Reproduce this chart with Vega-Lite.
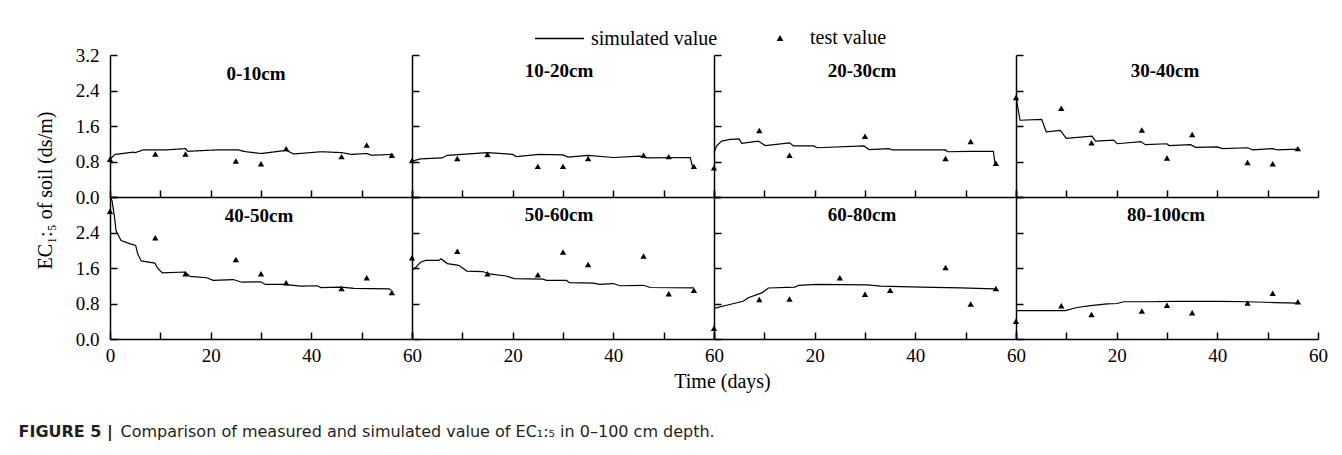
{
"$schema": "https://vega.github.io/schema/vega-lite/v6.json",
"autosize": {"type": "none"},
"padding": {"left": 110, "top": 55, "right": 1232, "bottom": 400},
"background": "white",
"datasets": {
"sim": [
{"d":"0-10cm","t":0,"v":0.85},{"d":"0-10cm","t":1,"v":0.96},{"d":"0-10cm","t":4.6,"v":1.01},{"d":"0-10cm","t":5,"v":1.0},{"d":"0-10cm","t":6.6,"v":1.06},{"d":"0-10cm","t":11,"v":1.06},{"d":"0-10cm","t":15,"v":1.09},{"d":"0-10cm","t":15.5,"v":1.03},{"d":"0-10cm","t":21,"v":1.06},{"d":"0-10cm","t":25.5,"v":1.06},{"d":"0-10cm","t":27,"v":1.02},{"d":"0-10cm","t":30,"v":0.98},{"d":"0-10cm","t":35,"v":1.05},{"d":"0-10cm","t":36.5,"v":0.97},{"d":"0-10cm","t":42,"v":1.02},{"d":"0-10cm","t":46,"v":1.0},{"d":"0-10cm","t":48,"v":0.96},{"d":"0-10cm","t":51,"v":0.98},{"d":"0-10cm","t":52,"v":0.94},{"d":"0-10cm","t":56,"v":0.96},
{"d":"10-20cm","t":0,"v":0.81},{"d":"10-20cm","t":1.7,"v":0.86},{"d":"10-20cm","t":6,"v":0.88},{"d":"10-20cm","t":7,"v":0.94},{"d":"10-20cm","t":15,"v":1.0},{"d":"10-20cm","t":20,"v":0.96},{"d":"10-20cm","t":20.7,"v":0.91},{"d":"10-20cm","t":25.3,"v":0.96},{"d":"10-20cm","t":30,"v":0.95},{"d":"10-20cm","t":31,"v":0.9},{"d":"10-20cm","t":35,"v":0.94},{"d":"10-20cm","t":40,"v":0.89},{"d":"10-20cm","t":45.3,"v":0.92},{"d":"10-20cm","t":46.7,"v":0.88},{"d":"10-20cm","t":55.3,"v":0.89},{"d":"10-20cm","t":55.7,"v":0.69},
{"d":"20-30cm","t":0,"v":1.0},{"d":"20-30cm","t":0.5,"v":1.15},{"d":"20-30cm","t":1.5,"v":1.26},{"d":"20-30cm","t":3.2,"v":1.3},{"d":"20-30cm","t":5,"v":1.31},{"d":"20-30cm","t":5.5,"v":1.21},{"d":"20-30cm","t":8.8,"v":1.26},{"d":"20-30cm","t":10.2,"v":1.16},{"d":"20-30cm","t":15,"v":1.22},{"d":"20-30cm","t":15.8,"v":1.15},{"d":"20-30cm","t":19.8,"v":1.15},{"d":"20-30cm","t":20.5,"v":1.11},{"d":"20-30cm","t":29.8,"v":1.15},{"d":"20-30cm","t":30.8,"v":1.07},{"d":"20-30cm","t":34.8,"v":1.09},{"d":"20-30cm","t":35.4,"v":1.06},{"d":"20-30cm","t":46,"v":1.06},{"d":"20-30cm","t":46.4,"v":1.02},{"d":"20-30cm","t":51,"v":1.03},{"d":"20-30cm","t":55.5,"v":1.03},{"d":"20-30cm","t":55.8,"v":0.77},
{"d":"30-40cm","t":0,"v":2.26},{"d":"30-40cm","t":0.8,"v":1.73},{"d":"30-40cm","t":5.1,"v":1.75},{"d":"30-40cm","t":6,"v":1.47},{"d":"30-40cm","t":8.8,"v":1.5},{"d":"30-40cm","t":10,"v":1.32},{"d":"30-40cm","t":15.1,"v":1.37},{"d":"30-40cm","t":15.8,"v":1.26},{"d":"30-40cm","t":19.4,"v":1.28},{"d":"30-40cm","t":20.1,"v":1.2},{"d":"30-40cm","t":24.8,"v":1.25},{"d":"30-40cm","t":25.7,"v":1.18},{"d":"30-40cm","t":30,"v":1.2},{"d":"30-40cm","t":30.4,"v":1.16},{"d":"30-40cm","t":34.7,"v":1.18},{"d":"30-40cm","t":35.7,"v":1.12},{"d":"30-40cm","t":40,"v":1.13},{"d":"30-40cm","t":41,"v":1.09},{"d":"30-40cm","t":46,"v":1.11},{"d":"30-40cm","t":47,"v":1.06},{"d":"30-40cm","t":51,"v":1.09},{"d":"30-40cm","t":52,"v":1.06},{"d":"30-40cm","t":56,"v":1.08},
{"d":"40-50cm","t":0,"v":3.19},{"d":"40-50cm","t":0.4,"v":3.12},{"d":"40-50cm","t":0.9,"v":2.74},{"d":"40-50cm","t":1.2,"v":2.44},{"d":"40-50cm","t":2.2,"v":2.22},{"d":"40-50cm","t":3.9,"v":2.15},{"d":"40-50cm","t":5.1,"v":2.11},{"d":"40-50cm","t":5.5,"v":1.92},{"d":"40-50cm","t":6.2,"v":1.76},{"d":"40-50cm","t":8.9,"v":1.71},{"d":"40-50cm","t":9.5,"v":1.59},{"d":"40-50cm","t":10.4,"v":1.49},{"d":"40-50cm","t":14.9,"v":1.51},{"d":"40-50cm","t":15.9,"v":1.41},{"d":"40-50cm","t":19.2,"v":1.38},{"d":"40-50cm","t":20.5,"v":1.32},{"d":"40-50cm","t":24.5,"v":1.34},{"d":"40-50cm","t":26.2,"v":1.28},{"d":"40-50cm","t":29.9,"v":1.29},{"d":"40-50cm","t":30.9,"v":1.23},{"d":"40-50cm","t":34.5,"v":1.23},{"d":"40-50cm","t":37.9,"v":1.19},{"d":"40-50cm","t":41.2,"v":1.2},{"d":"40-50cm","t":41.9,"v":1.16},{"d":"40-50cm","t":45.9,"v":1.17},{"d":"40-50cm","t":48.5,"v":1.14},{"d":"40-50cm","t":55.5,"v":1.13},{"d":"40-50cm","t":55.9,"v":1.1},
{"d":"50-60cm","t":0,"v":1.55},{"d":"50-60cm","t":0.7,"v":1.61},{"d":"50-60cm","t":1.7,"v":1.73},{"d":"50-60cm","t":2.7,"v":1.77},{"d":"50-60cm","t":5.3,"v":1.77},{"d":"50-60cm","t":5.8,"v":1.81},{"d":"50-60cm","t":7,"v":1.7},{"d":"50-60cm","t":9.3,"v":1.66},{"d":"50-60cm","t":10.9,"v":1.53},{"d":"50-60cm","t":14,"v":1.52},{"d":"50-60cm","t":15.7,"v":1.46},{"d":"50-60cm","t":18.7,"v":1.42},{"d":"50-60cm","t":20.3,"v":1.36},{"d":"50-60cm","t":26,"v":1.35},{"d":"50-60cm","t":26.7,"v":1.32},{"d":"50-60cm","t":30.7,"v":1.32},{"d":"50-60cm","t":31.3,"v":1.27},{"d":"50-60cm","t":36,"v":1.26},{"d":"50-60cm","t":37.3,"v":1.23},{"d":"50-60cm","t":40,"v":1.25},{"d":"50-60cm","t":41.3,"v":1.2},{"d":"50-60cm","t":46,"v":1.21},{"d":"50-60cm","t":47.3,"v":1.16},{"d":"50-60cm","t":56,"v":1.15},
{"d":"60-80cm","t":0,"v":0.69},{"d":"60-80cm","t":2.5,"v":0.76},{"d":"60-80cm","t":5.8,"v":0.85},{"d":"60-80cm","t":6.8,"v":0.93},{"d":"60-80cm","t":9.5,"v":1.04},{"d":"60-80cm","t":10.8,"v":1.15},{"d":"60-80cm","t":16.1,"v":1.17},{"d":"60-80cm","t":16.8,"v":1.21},{"d":"60-80cm","t":20.5,"v":1.23},{"d":"60-80cm","t":30.4,"v":1.22},{"d":"60-80cm","t":33.1,"v":1.19},{"d":"60-80cm","t":41.1,"v":1.17},{"d":"60-80cm","t":49,"v":1.15},{"d":"60-80cm","t":55.7,"v":1.13},
{"d":"80-100cm","t":0,"v":0.64},{"d":"80-100cm","t":9.8,"v":0.64},{"d":"80-100cm","t":12.1,"v":0.71},{"d":"80-100cm","t":14.8,"v":0.75},{"d":"80-100cm","t":18.1,"v":0.79},{"d":"80-100cm","t":20.1,"v":0.8},{"d":"80-100cm","t":21.4,"v":0.84},{"d":"80-100cm","t":26.1,"v":0.84},{"d":"80-100cm","t":31.4,"v":0.85},{"d":"80-100cm","t":40.7,"v":0.85},{"d":"80-100cm","t":46,"v":0.84},{"d":"80-100cm","t":51.4,"v":0.82},{"d":"80-100cm","t":56,"v":0.81}
],
"test": [
{"d":"0-10cm","t":0,"v":0.85},{"d":"0-10cm","t":9,"v":0.97},{"d":"0-10cm","t":15,"v":0.97},{"d":"0-10cm","t":25,"v":0.81},{"d":"0-10cm","t":30,"v":0.75},{"d":"0-10cm","t":35,"v":1.09},{"d":"0-10cm","t":46,"v":0.91},{"d":"0-10cm","t":51,"v":1.17},{"d":"0-10cm","t":56,"v":0.94},
{"d":"10-20cm","t":0,"v":0.82},{"d":"10-20cm","t":9,"v":0.87},{"d":"10-20cm","t":15,"v":0.96},{"d":"10-20cm","t":25,"v":0.69},{"d":"10-20cm","t":30,"v":0.69},{"d":"10-20cm","t":35,"v":0.87},{"d":"10-20cm","t":46,"v":0.94},{"d":"10-20cm","t":51,"v":0.91},{"d":"10-20cm","t":56,"v":0.69},
{"d":"20-30cm","t":0,"v":0.66},{"d":"20-30cm","t":9,"v":1.5},{"d":"20-30cm","t":15,"v":0.94},{"d":"20-30cm","t":30,"v":1.37},{"d":"20-30cm","t":46,"v":0.87},{"d":"20-30cm","t":51,"v":1.25},{"d":"20-30cm","t":56,"v":0.76},
{"d":"30-40cm","t":0,"v":2.24},{"d":"30-40cm","t":9,"v":2.0},{"d":"30-40cm","t":15,"v":1.22},{"d":"30-40cm","t":25,"v":1.51},{"d":"30-40cm","t":30,"v":0.88},{"d":"30-40cm","t":35,"v":1.41},{"d":"30-40cm","t":46,"v":0.78},{"d":"30-40cm","t":51,"v":0.75},{"d":"30-40cm","t":56,"v":1.09},
{"d":"40-50cm","t":0,"v":2.88},{"d":"40-50cm","t":9,"v":2.28},{"d":"40-50cm","t":15,"v":1.47},{"d":"40-50cm","t":25,"v":1.79},{"d":"40-50cm","t":30,"v":1.47},{"d":"40-50cm","t":35,"v":1.27},{"d":"40-50cm","t":46,"v":1.14},{"d":"40-50cm","t":51,"v":1.38},{"d":"40-50cm","t":56,"v":1.05},
{"d":"50-60cm","t":0,"v":1.83},{"d":"50-60cm","t":9,"v":1.98},{"d":"50-60cm","t":15,"v":1.47},{"d":"50-60cm","t":25,"v":1.45},{"d":"50-60cm","t":30,"v":1.96},{"d":"50-60cm","t":35,"v":1.68},{"d":"50-60cm","t":46,"v":1.87},{"d":"50-60cm","t":51,"v":1.02},{"d":"50-60cm","t":56,"v":1.1},
{"d":"60-80cm","t":0,"v":0.24},{"d":"60-80cm","t":9,"v":0.89},{"d":"60-80cm","t":15,"v":0.9},{"d":"60-80cm","t":25,"v":1.38},{"d":"60-80cm","t":30,"v":1.01},{"d":"60-80cm","t":35,"v":1.1},{"d":"60-80cm","t":46,"v":1.61},{"d":"60-80cm","t":51,"v":0.79},{"d":"60-80cm","t":56,"v":1.14},
{"d":"80-100cm","t":0,"v":0.4},{"d":"80-100cm","t":9,"v":0.75},{"d":"80-100cm","t":15,"v":0.55},{"d":"80-100cm","t":25,"v":0.63},{"d":"80-100cm","t":30,"v":0.76},{"d":"80-100cm","t":35,"v":0.59},{"d":"80-100cm","t":46,"v":0.81},{"d":"80-100cm","t":51,"v":1.03},{"d":"80-100cm","t":56,"v":0.84}
]
},
"columns": 4,
"spacing": 0,
"bounds": "flush",
"concat": [
{"width": 302, "height": 142,
 "title": {"text": "0-10cm", "anchor": "middle", "baseline": "middle", "offset": -47, "dx": -5, "font": "Liberation Serif", "fontSize": 19, "fontWeight": "bold", "color": "black"},
 "encoding": {"x": {"field": "t", "type": "quantitative", "scale": {"domain": [0, 60], "nice": false}, "axis": {"values": [0,10,20,30,40,50,60], "labels": false, "title": null}}, "y": {"field": "v", "type": "quantitative", "scale": {"domain": [0, 3.2], "nice": false}, "axis": {"values": [0,0.8,1.6,2.4,3.2], "format": ".1f", "labelPadding": 18, "title": "EC₁:₅ of soil (ds/m)", "titleX": -55, "titleY": 135}}},
 "layer": [
{"data": {"name": "sim"}, "transform": [{"filter": "datum.d === '0-10cm'"}], "mark": {"type": "line", "color": "black", "strokeWidth": 1.2}, "encoding": {"strokeDash": {"datum": "simulated value", "scale": {"range": [[1, 0]]}, "legend": {"title": null, "orient": "none", "legendX": 424, "legendY": -42, "symbolType": "stroke", "symbolSize": 2400, "symbolStrokeColor": "black", "symbolStrokeWidth": 1.3, "labelFont": "Liberation Serif", "labelFontSize": 20, "labelColor": "black", "labelOffset": 6}}}},
{"data": {"name": "test"}, "transform": [{"filter": "datum.d === '0-10cm'"}], "mark": {"type": "point", "filled": true, "color": "black", "opacity": 1, "size": 40}, "encoding": {"shape": {"datum": "test value", "scale": {"range": ["triangle-up"]}, "legend": {"title": null, "orient": "none", "legendX": 660, "legendY": -27, "symbolSize": 45, "symbolFillColor": "black", "labelFont": "Liberation Serif", "labelFontSize": 20, "labelColor": "black", "labelOffset": 20}}}}
]},
{"width": 302, "height": 142,
 "title": {"text": "10-20cm", "anchor": "middle", "baseline": "middle", "offset": -36, "dx": -4, "font": "Liberation Serif", "fontSize": 19, "fontWeight": "bold", "color": "black"},
 "encoding": {"x": {"field": "t", "type": "quantitative", "scale": {"domain": [0, 60], "nice": false}, "axis": {"values": [0,10,20,30,40,50,60], "labels": false, "title": null}}, "y": {"field": "v", "type": "quantitative", "scale": {"domain": [0, 3.2], "nice": false}, "axis": {"values": [0,0.8,1.6,2.4,3.2], "labels": false, "title": null}}},
 "layer": [
{"data": {"name": "sim"}, "transform": [{"filter": "datum.d === '10-20cm'"}], "mark": {"type": "line", "color": "black", "strokeWidth": 1.2}, "encoding": {}},
{"data": {"name": "test"}, "transform": [{"filter": "datum.d === '10-20cm'"}], "mark": {"type": "point", "filled": true, "color": "black", "opacity": 1, "shape": "triangle-up", "size": 40}}
]},
{"width": 302, "height": 142,
 "title": {"text": "20-30cm", "anchor": "middle", "baseline": "middle", "offset": -36, "dx": -3, "font": "Liberation Serif", "fontSize": 19, "fontWeight": "bold", "color": "black"},
 "encoding": {"x": {"field": "t", "type": "quantitative", "scale": {"domain": [0, 60], "nice": false}, "axis": {"values": [0,10,20,30,40,50,60], "labels": false, "title": null}}, "y": {"field": "v", "type": "quantitative", "scale": {"domain": [0, 3.2], "nice": false}, "axis": {"values": [0,0.8,1.6,2.4,3.2], "labels": false, "title": null}}},
 "layer": [
{"data": {"name": "sim"}, "transform": [{"filter": "datum.d === '20-30cm'"}], "mark": {"type": "line", "color": "black", "strokeWidth": 1.2}, "encoding": {}},
{"data": {"name": "test"}, "transform": [{"filter": "datum.d === '20-30cm'"}], "mark": {"type": "point", "filled": true, "color": "black", "opacity": 1, "shape": "triangle-up", "size": 40}}
]},
{"width": 302, "height": 142,
 "title": {"text": "30-40cm", "anchor": "middle", "baseline": "middle", "offset": -36, "dx": -2, "font": "Liberation Serif", "fontSize": 19, "fontWeight": "bold", "color": "black"},
 "encoding": {"x": {"field": "t", "type": "quantitative", "scale": {"domain": [0, 60], "nice": false}, "axis": {"values": [0,10,20,30,40,50,60], "labels": false, "title": null}}, "y": {"field": "v", "type": "quantitative", "scale": {"domain": [0, 3.2], "nice": false}, "axis": {"values": [0,0.8,1.6,2.4,3.2], "labels": false, "title": null}}},
 "layer": [
{"data": {"name": "sim"}, "transform": [{"filter": "datum.d === '30-40cm'"}], "mark": {"type": "line", "color": "black", "strokeWidth": 1.2}, "encoding": {}},
{"data": {"name": "test"}, "transform": [{"filter": "datum.d === '30-40cm'"}], "mark": {"type": "point", "filled": true, "color": "black", "opacity": 1, "shape": "triangle-up", "size": 40}}
]},
{"width": 302, "height": 142,
 "title": {"text": "40-50cm", "anchor": "middle", "baseline": "middle", "offset": -47, "dx": -2, "font": "Liberation Serif", "fontSize": 19, "fontWeight": "bold", "color": "black"},
 "encoding": {"x": {"field": "t", "type": "quantitative", "scale": {"domain": [0, 60], "nice": false}, "axis": {"values": [0,10,20,30,40,50,60], "labelExpr": "datum.value % 20 === 0 ? datum.label : ''", "labelPadding": 14, "title": "FIGURE 5 |", "titleX": -92, "titleY": 84, "titleAlign": "left", "titleBaseline": "top", "titleFont": "DejaVu Sans", "titleFontSize": 16, "titleFontWeight": "bold", "titleColor": "#231f20"}}, "y": {"field": "v", "type": "quantitative", "scale": {"domain": [0, 3.2], "nice": false}, "axis": {"values": [0,0.8,1.6,2.4,3.2], "format": ".1f", "labelExpr": "datum.value < 3.1 ? datum.label : ''", "labelPadding": 18, "title": null}}},
 "layer": [
{"data": {"name": "sim"}, "transform": [{"filter": "datum.d === '40-50cm'"}], "mark": {"type": "line", "color": "black", "strokeWidth": 1.2}, "encoding": {}},
{"data": {"name": "test"}, "transform": [{"filter": "datum.d === '40-50cm'"}], "mark": {"type": "point", "filled": true, "color": "black", "opacity": 1, "shape": "triangle-up", "size": 40}}
]},
{"width": 302, "height": 142,
 "title": {"text": "50-60cm", "anchor": "middle", "baseline": "middle", "offset": -38, "dx": -4, "font": "Liberation Serif", "fontSize": 19, "fontWeight": "bold", "color": "black"},
 "encoding": {"x": {"field": "t", "type": "quantitative", "scale": {"domain": [0, 60], "nice": false}, "axis": {"values": [0,10,20,30,40,50,60], "labelExpr": "datum.value % 20 === 0 && datum.value > 0 ? datum.label : ''", "labelPadding": 14, "title": "Time (days)", "titleX": 310, "titlePadding": 6}}, "y": {"field": "v", "type": "quantitative", "scale": {"domain": [0, 3.2], "nice": false}, "axis": {"values": [0,0.8,1.6,2.4,3.2], "labels": false, "title": null}}},
 "layer": [
{"data": {"name": "sim"}, "transform": [{"filter": "datum.d === '50-60cm'"}], "mark": {"type": "line", "color": "black", "strokeWidth": 1.2}, "encoding": {}},
{"data": {"name": "test"}, "transform": [{"filter": "datum.d === '50-60cm'"}], "mark": {"type": "point", "filled": true, "color": "black", "opacity": 1, "shape": "triangle-up", "size": 40}}
]},
{"width": 302, "height": 142,
 "title": {"text": "60-80cm", "anchor": "middle", "baseline": "middle", "offset": -38, "dx": -3, "font": "Liberation Serif", "fontSize": 19, "fontWeight": "bold", "color": "black"},
 "encoding": {"x": {"field": "t", "type": "quantitative", "scale": {"domain": [0, 60], "nice": false}, "axis": {"values": [0,10,20,30,40,50,60], "labelExpr": "datum.value % 20 === 0 && datum.value > 0 ? datum.label : ''", "labelPadding": 14, "title": null}}, "y": {"field": "v", "type": "quantitative", "scale": {"domain": [0, 3.2], "nice": false}, "axis": {"values": [0,0.8,1.6,2.4,3.2], "labels": false, "title": "Comparison of measured and simulated value of EC₁:₅ in 0–100 cm depth.", "titleAngle": 0, "titleX": -594, "titleY": 226, "titleAlign": "left", "titleBaseline": "top", "titleFont": "DejaVu Sans", "titleFontSize": 16, "titleFontWeight": "normal", "titleColor": "#231f20"}}},
 "layer": [
{"data": {"name": "sim"}, "transform": [{"filter": "datum.d === '60-80cm'"}], "mark": {"type": "line", "color": "black", "strokeWidth": 1.2}, "encoding": {}},
{"data": {"name": "test"}, "transform": [{"filter": "datum.d === '60-80cm'"}], "mark": {"type": "point", "filled": true, "color": "black", "opacity": 1, "shape": "triangle-up", "size": 40}}
]},
{"width": 302, "height": 142,
 "title": {"text": "80-100cm", "anchor": "middle", "baseline": "middle", "offset": -38, "dx": -1, "font": "Liberation Serif", "fontSize": 19, "fontWeight": "bold", "color": "black"},
 "encoding": {"x": {"field": "t", "type": "quantitative", "scale": {"domain": [0, 60], "nice": false}, "axis": {"values": [0,10,20,30,40,50,60], "labelExpr": "datum.value % 20 === 0 && datum.value > 0 ? datum.label : ''", "labelPadding": 14, "title": null}}, "y": {"field": "v", "type": "quantitative", "scale": {"domain": [0, 3.2], "nice": false}, "axis": {"values": [0,0.8,1.6,2.4,3.2], "labels": false, "title": null}}},
 "layer": [
{"data": {"name": "sim"}, "transform": [{"filter": "datum.d === '80-100cm'"}], "mark": {"type": "line", "color": "black", "strokeWidth": 1.2}, "encoding": {}},
{"data": {"name": "test"}, "transform": [{"filter": "datum.d === '80-100cm'"}], "mark": {"type": "point", "filled": true, "color": "black", "opacity": 1, "shape": "triangle-up", "size": 40}}
]}
],
"config": {
"view": {"stroke": null},
"axis": {"domainColor": "black", "domainWidth": 1.5, "tickColor": "black", "tickWidth": 1.5, "tickSize": -7, "labelFont": "Liberation Serif", "labelFontSize": 19, "labelColor": "black", "titleFont": "Liberation Serif", "titleFontSize": 20, "titleFontWeight": "normal", "titleColor": "black", "grid": false, "labelFlush": false, "labelOverlap": false},
"concat": {"spacing": 0}
}
}
